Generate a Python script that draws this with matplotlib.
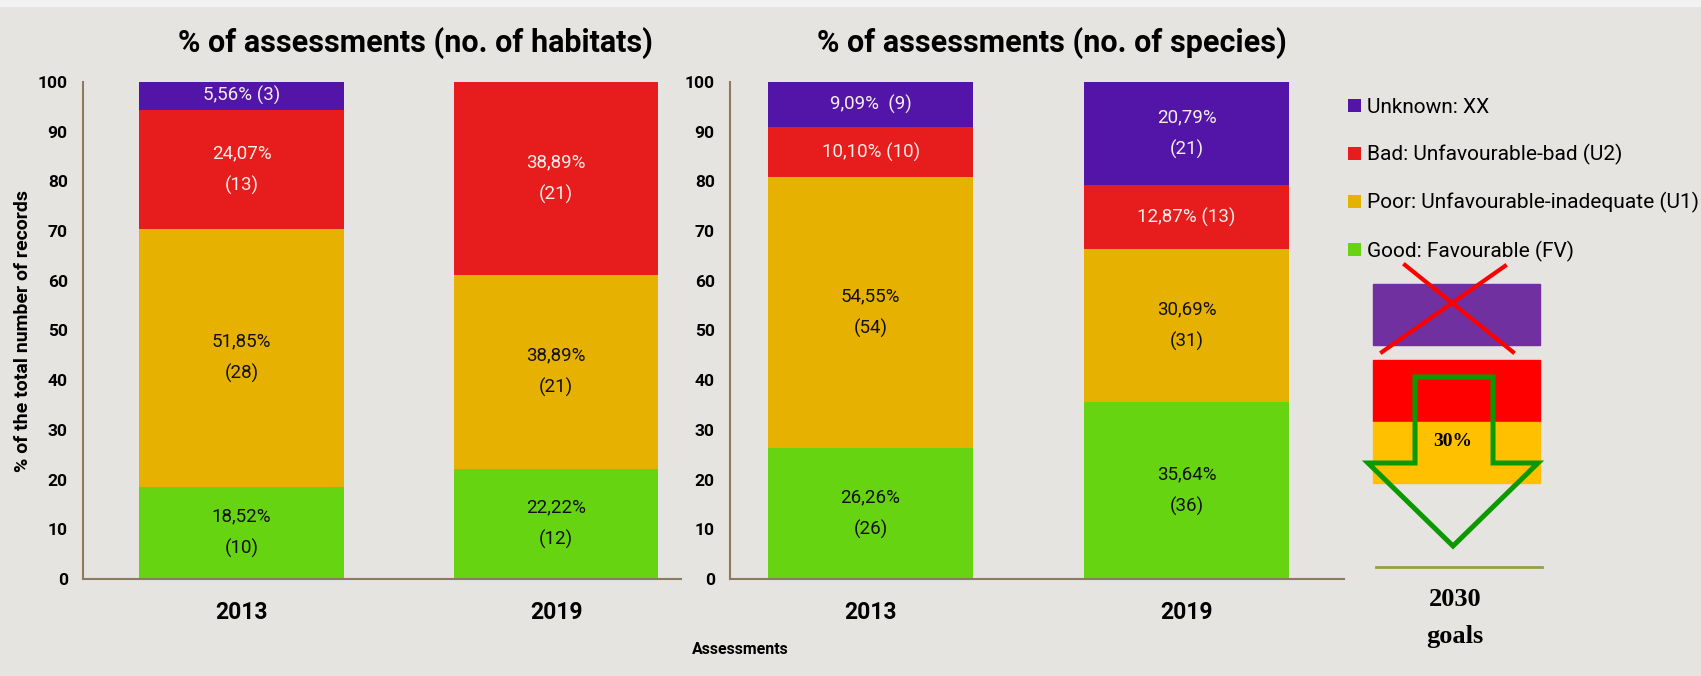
import numpy as np
import matplotlib.pyplot as plt
from matplotlib.patches import Rectangle, Polygon

SANS = ['Roboto', 'DejaVu Sans']
SERIF = ['Liberation Serif', 'DejaVu Serif']

years = ['2013', '2019']
categories = ['Good: Favourable (FV)', 'Poor: Unfavourable-inadequate (U1)',
              'Bad: Unfavourable-bad (U2)', 'Unknown: XX']
colors = ['#66D411', '#E6B100', '#E71D1D', '#5215A8']
text_colors = ['#111111', '#111111', '#F4EEE8', '#F4EEE8']

# % of assessments, stacked bottom -> top (FV, U1, U2, XX), one value per year
habitats_pct = [[18.52, 22.22], [51.85, 38.89], [24.07, 38.89], [5.56, 0.0]]
habitats_lbl = [['18,52%\n(10)', '22,22%\n(12)'],
                ['51,85%\n(28)', '38,89%\n(21)'],
                ['24,07%\n(13)', '38,89%\n(21)'],
                ['5,56% (3)', '']]
species_pct = [[26.26, 35.64], [54.55, 30.69], [10.10, 12.87], [9.09, 20.79]]
species_lbl = [['26,26%\n(26)', '35,64%\n(36)'],
               ['54,55%\n(54)', '30,69%\n(31)'],
               ['10,10% (10)', '12,87% (13)'],
               ['9,09%  (9)', '20,79%\n(21)']]

W, H = 1701, 676
BG = '#E6E4E0'
SPINE = '#8E7A5E'

fig = plt.figure(figsize=(W / 100, H / 100), dpi=100, facecolor=BG)
fig.patches.append(Rectangle((0, 1 - 6 / H), 1, 6 / H, transform=fig.transFigure,
                             color='#F2F2F2', zorder=-5))


def stacked(rect, pct, lbl, xlim, title, title_x):
    ax = fig.add_axes(rect, facecolor='none')
    x = np.arange(len(years))
    bottom = np.zeros(len(years))
    for vals, labs, c, tc, name in zip(pct, lbl, colors, text_colors, categories):
        bars = ax.bar(x, vals, width=0.65, bottom=bottom, color=c, label=name)
        ax.bar_label(bars, labels=labs, label_type='center', color=tc,
                     fontsize=13.5, family=SANS, linespacing=1.9)
        bottom += np.array(vals)
    ax.set_xlim(*xlim)
    ax.set_ylim(0, 100)
    ax.set_yticks(range(0, 101, 10))
    ax.set_xticks(x, years)
    for s in ['top', 'right']:
        ax.spines[s].set_visible(False)
    for s in ['left', 'bottom']:
        ax.spines[s].set_color(SPINE)
        ax.spines[s].set_linewidth(1.5)
    ax.tick_params(length=0)
    ax.tick_params(axis='y', pad=11)
    ax.tick_params(axis='x', pad=16)
    for t in ax.get_yticklabels():
        t.set_fontfamily(SANS)
        t.set_fontsize(12.5)
        t.set_fontweight('bold')
    for t in ax.get_xticklabels():
        t.set_fontfamily(SANS)
        t.set_fontsize(16.5)
        t.set_fontweight('bold')
    fig.text(title_x / W, 1 - 43 / H, title, ha='center', va='center',
             fontsize=22, fontweight='bold', family=SANS)
    return ax


ax1 = stacked([83 / W, 1 - 579 / H, 598 / W, 497 / H], habitats_pct, habitats_lbl,
              (-0.504, 1.397), '% of assessments (no. of habitats)', 415)
ax2 = stacked([730 / W, 1 - 579 / H, 614 / W, 497 / H], species_pct, species_lbl,
              (-0.445, 1.498), '% of assessments (no. of species)', 1052)

ax1.set_ylabel('% of the total number of records', fontsize=14, fontweight='bold',
               family=SANS, labelpad=4)
fig.text(740 / W, 1 - 649 / H, 'Assessments', ha='center', va='center',
         fontsize=11.5, fontweight='bold', family=SANS)

handles, labels = ax2.get_legend_handles_labels()
fig.legend(handles[::-1], labels[::-1], loc='upper left',
           bbox_to_anchor=(1348 / W, 1 - 98 / H), frameon=False,
           prop={'family': SANS, 'size': 15}, handlelength=0.6, handleheight=0.6,
           handletextpad=0.3, labelspacing=1.3, borderpad=0, borderaxespad=0)

# 2030 goals sketch, drawn in pixel coordinates of the figure
g = fig.add_axes([0, 0, 1, 1], facecolor='none')
g.set_xlim(0, W)
g.set_ylim(H, 0)
g.axis('off')
g.add_patch(Rectangle((1373, 284), 167, 61, color='#7030A0'))
g.add_patch(Rectangle((1373, 360), 167, 61, color='#FF0000'))
g.add_patch(Rectangle((1373, 422), 167, 61, color='#FFC000'))
g.plot([1405, 1513], [265, 352], color='#FF0000', lw=3)
g.plot([1505, 1382], [266, 352], color='#FF0000', lw=3)
arrow = [(1415, 377), (1493, 377), (1493, 463), (1538, 463), (1453, 546),
         (1368, 463), (1415, 463)]
g.add_patch(Polygon(arrow, closed=True, fill=False, edgecolor='#0A9A00', lw=3.6,
                    joinstyle='miter'))
g.text(1453, 442, '30%', ha='center', va='center', fontsize=14, fontweight='bold',
       family=SERIF)
g.plot([1376, 1542], [567, 567], color='#97A040', lw=2)
g.text(1455, 600, '2030', ha='center', va='center', fontsize=19, fontweight='bold',
       family=SERIF)
g.text(1455, 637, 'goals', ha='center', va='center', fontsize=19, fontweight='bold',
       family=SERIF)

fig.savefig('out.png', dpi=100, facecolor=BG)
